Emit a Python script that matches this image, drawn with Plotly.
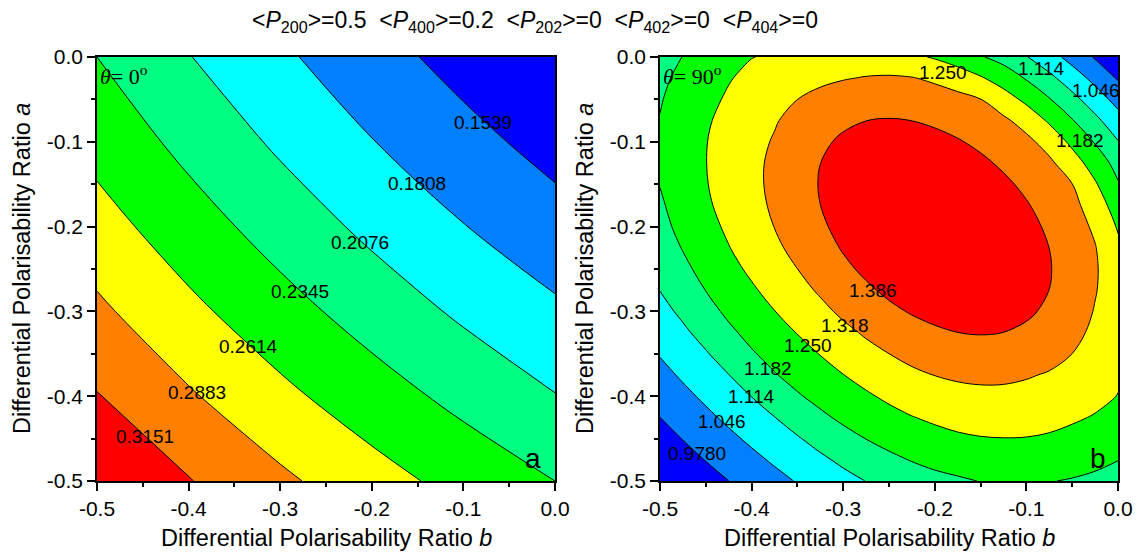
import plotly.graph_objects as go

# ---------------- data ----------------
# Left panel (theta = 0 deg): values on a grid of b (x) and a (y)
b_left = [-0.5, -0.4, -0.3, -0.2, -0.1, 0.0]
a_left = [-0.5, -0.4, -0.3, -0.2, -0.1, 0.0]
left_a_m050 = [0.3415, 0.3164, 0.2934, 0.2719, 0.2523, 0.2345]
left_a_m040 = [0.3164, 0.2912, 0.2677, 0.2465, 0.2269, 0.2086]
left_a_m030 = [0.2934, 0.2677, 0.2445, 0.2231, 0.2032, 0.1852]
left_a_m020 = [0.2719, 0.2465, 0.2231, 0.2014, 0.1816, 0.1640]
left_a_m010 = [0.2523, 0.2269, 0.2032, 0.1816, 0.1624, 0.1445]
left_a_000 = [0.2345, 0.2086, 0.1852, 0.1640, 0.1445, 0.1262]

# Right panel (theta = 90 deg): values on a 0.025 grid
b_right = [-0.5, -0.475, -0.45, -0.425, -0.4, -0.375, -0.35, -0.325, -0.3, -0.275, -0.25,
           -0.225, -0.2, -0.175, -0.15, -0.125, -0.1, -0.075, -0.05, -0.025, 0.0]
a_right = list(b_right)
r_a_m0500 = [0.901, 0.927, 0.953, 0.9778, 1.003, 1.026, 1.050, 1.073, 1.095, 1.115, 1.133,
             1.150, 1.164, 1.174, 1.1835, 1.186, 1.186, 1.184, 1.178, 1.170, 1.160]
r_a_m0475 = [0.927, 0.953, 0.980, 1.005, 1.030, 1.055, 1.080, 1.103, 1.126, 1.148, 1.168,
             1.185, 1.199, 1.208, 1.215, 1.218, 1.218, 1.213, 1.206, 1.196, 1.183]
r_a_m0450 = [0.953, 0.980, 1.006, 1.032, 1.058, 1.084, 1.109, 1.135, 1.161, 1.183, 1.202,
             1.217, 1.231, 1.241, 1.247, 1.249, 1.248, 1.243, 1.233, 1.221, 1.207]
r_a_m0425 = [0.9778, 1.005, 1.032, 1.059, 1.087, 1.113, 1.142, 1.170, 1.194, 1.214, 1.232,
             1.248, 1.260, 1.270, 1.275, 1.276, 1.274, 1.268, 1.258, 1.246, 1.229]
r_a_m0400 = [1.003, 1.030, 1.058, 1.087, 1.115, 1.146, 1.176, 1.200, 1.222, 1.242, 1.261,
             1.277, 1.290, 1.299, 1.303, 1.303, 1.299, 1.291, 1.280, 1.266, 1.2485]
r_a_m0375 = [1.026, 1.055, 1.084, 1.113, 1.146, 1.178, 1.203, 1.226, 1.249, 1.270, 1.289,
             1.306, 1.319, 1.327, 1.331, 1.330, 1.323, 1.313, 1.300, 1.284, 1.257]
r_a_m0350 = [1.050, 1.080, 1.109, 1.142, 1.176, 1.203, 1.228, 1.252, 1.275, 1.298, 1.3178,
             1.336, 1.3475, 1.356, 1.361, 1.361, 1.3545, 1.338, 1.3178, 1.294, 1.263]
r_a_m0325 = [1.073, 1.103, 1.135, 1.170, 1.200, 1.226, 1.252, 1.277, 1.302, 1.326, 1.3464,
             1.362, 1.377, 1.3858, 1.389, 1.3858, 1.377, 1.363, 1.337, 1.304, 1.270]
r_a_m0300 = [1.095, 1.126, 1.161, 1.194, 1.222, 1.249, 1.275, 1.302, 1.330, 1.354, 1.373,
             1.391, 1.403, 1.410, 1.410, 1.405, 1.394, 1.377, 1.3545, 1.314, 1.275]
r_a_m0275 = [1.115, 1.148, 1.183, 1.214, 1.242, 1.270, 1.298, 1.326, 1.354, 1.376, 1.398,
             1.414, 1.424, 1.428, 1.426, 1.419, 1.405, 1.3858, 1.361, 1.322, 1.277]
r_a_m0250 = [1.133, 1.168, 1.202, 1.232, 1.261, 1.289, 1.3178, 1.3464, 1.373, 1.398, 1.417,
             1.431, 1.438, 1.440, 1.436, 1.426, 1.410, 1.389, 1.361, 1.325, 1.274]
r_a_m0225 = [1.150, 1.185, 1.217, 1.248, 1.277, 1.306, 1.336, 1.362, 1.391, 1.414, 1.431,
             1.442, 1.447, 1.4465, 1.440, 1.428, 1.410, 1.3858, 1.356, 1.321, 1.262]
r_a_m0200 = [1.164, 1.199, 1.231, 1.260, 1.290, 1.319, 1.3475, 1.377, 1.403, 1.424, 1.438,
             1.447, 1.450, 1.447, 1.438, 1.424, 1.403, 1.377, 1.346, 1.308, 1.244]
r_a_m0175 = [1.174, 1.208, 1.241, 1.270, 1.299, 1.327, 1.356, 1.3858, 1.410, 1.428, 1.440,
             1.4465, 1.447, 1.442, 1.431, 1.414, 1.391, 1.362, 1.336, 1.287, 1.218]
r_a_m0150 = [1.1835, 1.215, 1.247, 1.275, 1.303, 1.331, 1.361, 1.389, 1.410, 1.426, 1.436,
             1.440, 1.438, 1.431, 1.417, 1.398, 1.373, 1.347, 1.319, 1.257, 1.187]
r_a_m0125 = [1.186, 1.218, 1.249, 1.276, 1.303, 1.330, 1.361, 1.3858, 1.405, 1.419, 1.426,
             1.428, 1.424, 1.414, 1.398, 1.376, 1.355, 1.330, 1.280, 1.220, 1.159]
r_a_m0100 = [1.186, 1.218, 1.248, 1.274, 1.299, 1.323, 1.3545, 1.377, 1.394, 1.405, 1.410,
             1.410, 1.403, 1.391, 1.373, 1.355, 1.334, 1.293, 1.235, 1.177, 1.117]
r_a_m0075 = [1.184, 1.213, 1.243, 1.268, 1.291, 1.313, 1.338, 1.363, 1.377, 1.3858, 1.389,
             1.3858, 1.377, 1.362, 1.347, 1.330, 1.293, 1.241, 1.186, 1.130, 1.072]
r_a_m0050 = [1.178, 1.206, 1.233, 1.258, 1.280, 1.300, 1.3178, 1.337, 1.3545, 1.361, 1.361,
             1.356, 1.346, 1.336, 1.319, 1.280, 1.235, 1.186, 1.134, 1.079, 1.023]
r_a_m0025 = [1.170, 1.196, 1.221, 1.246, 1.266, 1.284, 1.294, 1.304, 1.314, 1.322, 1.325,
             1.321, 1.308, 1.287, 1.257, 1.220, 1.177, 1.130, 1.079, 1.027, 0.972]
r_a_0000 = [1.160, 1.183, 1.207, 1.229, 1.2485, 1.257, 1.263, 1.270, 1.275, 1.277, 1.274,
            1.262, 1.244, 1.218, 1.187, 1.159, 1.117, 1.072, 1.023, 0.972, 0.912]

# contour levels
left_levels = [0.153905, 0.180775, 0.207645, 0.234515, 0.261385, 0.288255, 0.315125]
right_levels = [0.978, 1.046, 1.114, 1.182, 1.250, 1.318, 1.386]

# contour-label placements: (level index, b, a)
left_labels = [(0, -0.079, -0.077), (1, -0.151, -0.149), (2, -0.213, -0.219),
               (3, -0.278, -0.277), (4, -0.335, -0.341), (5, -0.391, -0.396),
               (6, -0.448, -0.448)]
right_labels = [(4, -0.191, -0.018), (2, -0.083, -0.013), (1, -0.024, -0.039),
                (3, -0.042, -0.098), (6, -0.268, -0.275), (5, -0.298, -0.317),
                (4, -0.338, -0.340), (3, -0.382, -0.367), (2, -0.400, -0.400),
                (1, -0.432, -0.430), (0, -0.460, -0.467)]

# tick labels
tick_vals = [-0.5, -0.4, -0.3, -0.2, -0.1, 0.0]
tick_text = ["-0.5", "-0.4", "-0.3", "-0.2", "-0.1", "0.0"]

band_colors = ["#0000FF", "#0080FF", "#00FFFF", "#00FF80",
               "#00FF00", "#FFFF00", "#FF8000", "#FF0000"]

# ---------------- figure ----------------
z_left = [left_a_m050, left_a_m040, left_a_m030, left_a_m020, left_a_m010, left_a_000]
z_right = [r_a_m0500, r_a_m0475, r_a_m0450, r_a_m0425, r_a_m0400, r_a_m0375, r_a_m0350,
           r_a_m0325, r_a_m0300, r_a_m0275, r_a_m0250, r_a_m0225, r_a_m0200, r_a_m0175,
           r_a_m0150, r_a_m0125, r_a_m0100, r_a_m0075, r_a_m0050, r_a_m0025, r_a_0000]

cscale = [[k / (len(band_colors) - 1), c] for k, c in enumerate(band_colors)]
FONT = "Liberation Sans"
W, H = 1142, 557


def contour(x, y, z, levels, xa, ya):
    return go.Contour(
        x=x, y=y, z=z, xaxis=xa, yaxis=ya,
        autocontour=False,
        contours=dict(start=levels[0], end=levels[-1],
                      size=(levels[-1] - levels[0]) / (len(levels) - 1),
                      coloring="fill", showlabels=False),
        line=dict(color="black", width=1, smoothing=1),
        colorscale=cscale, showscale=False, hoverinfo="skip")


fig = go.Figure()
fig.add_trace(contour(b_left, a_left, z_left, left_levels, "x", "y"))
fig.add_trace(contour(b_right, a_right, z_right, right_levels, "x2", "y2"))


def px_x(p):
    return p / W


def px_y(p):
    return 1 - p / H


axis_common = dict(range=[-0.5, 0.0], tickmode="array", tickvals=tick_vals, ticktext=tick_text,
                   ticks="outside", ticklen=8, tickwidth=1.5, tickcolor="black",
                   minor=dict(tickmode="linear", tick0=-0.5, dtick=0.05, ticks="outside",
                              ticklen=4, tickwidth=1.5, tickcolor="black"),
                   showline=True, linecolor="black", linewidth=1.5, mirror=True,
                   showgrid=False, zeroline=False, automargin=False,
                   tickfont=dict(size=21, family=FONT, color="black"))

ydom = [px_y(481), px_y(57)]
fig.update_layout(
    width=W, height=H, margin=dict(l=0, r=0, t=0, b=0, autoexpand=False),
    paper_bgcolor="white", plot_bgcolor="white", showlegend=False,
    xaxis=dict(domain=[px_x(97), px_x(555)], anchor="y", **axis_common),
    yaxis=dict(domain=ydom, anchor="x", **axis_common),
    xaxis2=dict(domain=[px_x(660), px_x(1118)], anchor="y2", **axis_common),
    yaxis2=dict(domain=ydom, anchor="x2", **axis_common),
)

title_txt = ("&lt;<i>P</i><sub>200</sub>&gt;=0.5&nbsp; &lt;<i>P</i><sub>400</sub>&gt;=0.2&nbsp; "
             "&lt;<i>P</i><sub>202</sub>&gt;=0&nbsp; &lt;<i>P</i><sub>402</sub>&gt;=0&nbsp; "
             "&lt;<i>P</i><sub>404</sub>&gt;=0")
ann = [
    dict(text=title_txt, x=px_x(535), y=px_y(22), font=dict(size=23)),
    dict(text="Differential Polarisability Ratio <i>b</i>", x=px_x(326), y=px_y(538), font=dict(size=23.5)),
    dict(text="Differential Polarisability Ratio <i>b</i>", x=px_x(889), y=px_y(538), font=dict(size=23.5)),
    dict(text="Differential Polarisability Ratio <i>a</i>", x=px_x(22), y=px_y(269), font=dict(size=23.5), textangle=-90),
    dict(text="Differential Polarisability Ratio <i>a</i>", x=px_x(585), y=px_y(269), font=dict(size=23.5), textangle=-90),
    dict(text="<i>θ</i>= 0<sup>o</sup>", x=px_x(98), y=px_y(75), xanchor="left",
         font=dict(size=22, family="Liberation Serif")),
    dict(text="<i>θ</i>= 90<sup>o</sup>", x=px_x(661), y=px_y(75), xanchor="left",
         font=dict(size=22, family="Liberation Serif")),
    dict(text="a", x=px_x(533), y=px_y(458), font=dict(size=28)),
    dict(text="b", x=px_x(1098), y=px_y(458), font=dict(size=28)),
]
for a in ann:
    a.setdefault("xanchor", "center")
    a.update(xref="paper", yref="paper", showarrow=False, yanchor="middle")

# contour value labels (horizontal, as in the original)
for idx, bb, aa in left_labels:
    ann.append(dict(text="{:#.4g}".format(left_levels[idx]), x=bb, y=aa, xref="x", yref="y",
                    showarrow=False, xanchor="center", yanchor="middle", font=dict(size=19)))
for idx, bb, aa in right_labels:
    ann.append(dict(text="{:#.4g}".format(right_levels[idx]), x=bb, y=aa, xref="x2", yref="y2",
                    showarrow=False, xanchor="center", yanchor="middle", font=dict(size=19)))

for a in ann:
    f = a["font"]
    f.setdefault("family", FONT)
    f["color"] = "black"
fig.update_layout(annotations=ann)

fig.write_html("out.html")
